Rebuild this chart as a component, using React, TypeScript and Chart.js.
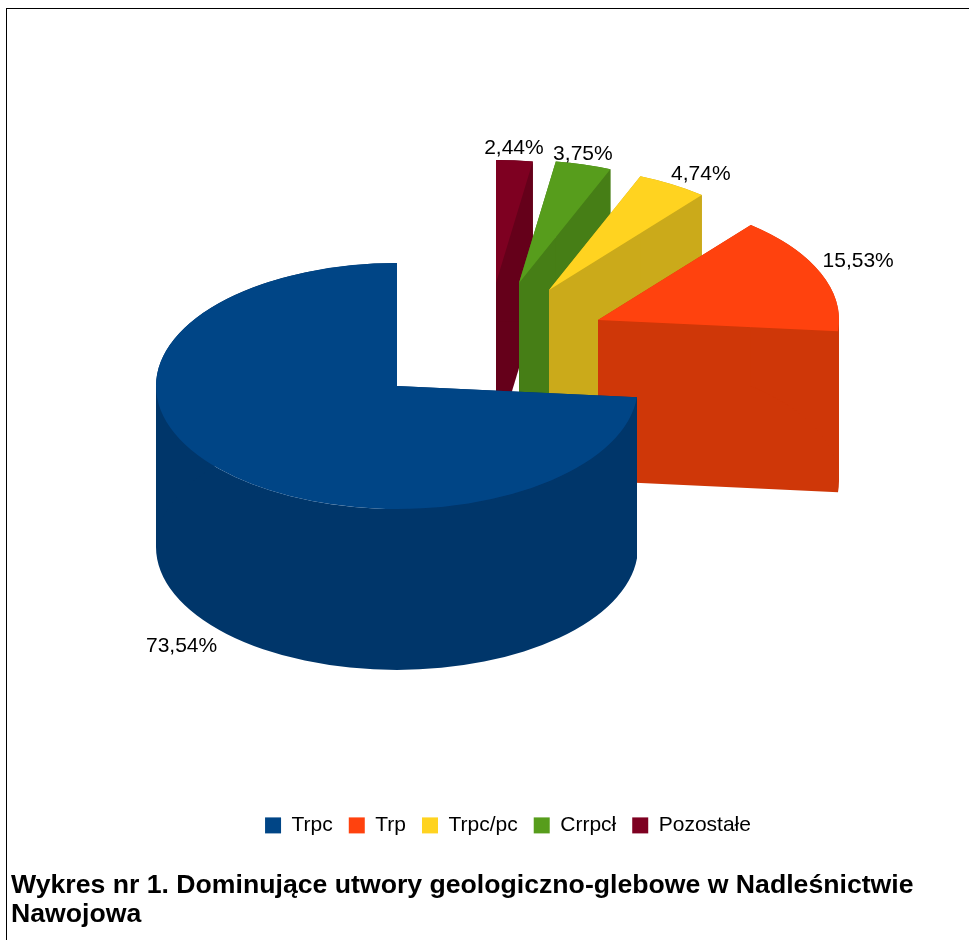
import { useEffect, useRef } from "react";
import { Chart, registerables } from "chart.js";

Chart.register(...registerables);

// Data, in legend order
const categories = ["Trpc", "Trp", "Trpc/pc", "Crrpcł", "Pozostałe"];
const shares = [73.54, 15.53, 4.74, 3.75, 2.44];
const topColors = ["#004586", "#ff420e", "#ffd320", "#579d1c", "#7e0021"];
const wallColors = ["#00366a", "#cf3708", "#cbaa1a", "#467e16", "#65001a"];
const titleLines = [
  "Wykres nr 1. Dominujące utwory geologiczno-glebowe w Nadleśnictwie",
  "Nawojowa",
];

// 3D layout of the exploded pie
const CENTER_X = 397;
const CENTER_Y = 386;
const RADIUS = 241;
const SQUASH = 0.51;
const WALL = 161;
const explodeX = [0, 201, 152, 122, 99];
const explodeY = [0, -66, -96, -103, -103];
const labelKX = [1.21, 1.17, 1.23, 0.99, 0.97];
const labelKY = [1.2, 1.25, 1.1, 1.085, 1.1];
const FONT = '"Liberation Sans", Arial, sans-serif';

// The pie runs counter-clockwise from 12 o'clock in legend order, so it is fed reversed.
const rev = <T,>(a: T[]): T[] => [...a].reverse();
const toLegend = (i: number) => categories.length - 1 - i;

const pie3d = {
  id: "pie3d",
  afterDatasetsUpdate(chart: any) {
    chart.getDatasetMeta(0).data.forEach((el: any, i: number) => {
      const k = toLegend(i);
      el.x = explodeX[k];
      el.y = explodeY[k] / SQUASH;
    });
  },
  beforeDraw(chart: any) {
    const lg = chart.legend;
    lg.left += 18;
    lg.right += 18;
  },
  beforeDatasetDraw(chart: any) {
    const ctx = chart.ctx as CanvasRenderingContext2D;
    const wall = WALL / SQUASH;
    ctx.save();
    ctx.translate(CENTER_X, CENTER_Y);
    ctx.scale(1, SQUASH);
    chart.getDatasetMeta(0).data.forEach((el: any, i: number) => {
      const k = toLegend(i);
      const { x, y, startAngle: a0, endAngle: a1, outerRadius: r } = el;
      ctx.fillStyle = wallColors[k];
      [a0, a1].forEach((a: number) => {
        ctx.beginPath();
        ctx.moveTo(x, y);
        ctx.lineTo(x + r * Math.cos(a), y + r * Math.sin(a));
        ctx.lineTo(x + r * Math.cos(a), y + wall + r * Math.sin(a));
        ctx.lineTo(x, y + wall);
        ctx.closePath();
        ctx.fill();
      });
      // Outer wall, split at the ellipse's left and right tangents so each band is simple
      const cuts = [a0, ...[0, Math.PI].filter((c) => c > a0 && c < a1), a1];
      for (let c = 0; c < cuts.length - 1; c++) {
        ctx.beginPath();
        ctx.arc(x, y, r, cuts[c], cuts[c + 1]);
        ctx.arc(x, y + wall, r, cuts[c + 1], cuts[c], true);
        ctx.closePath();
        ctx.fill();
      }
      el.draw(ctx);
    });
    ctx.restore();
    return false;
  },
  afterDatasetsDraw(chart: any) {
    const ctx = chart.ctx as CanvasRenderingContext2D;
    ctx.save();
    ctx.fillStyle = "#000";
    ctx.font = `21px ${FONT}`;
    ctx.textAlign = "center";
    ctx.textBaseline = "middle";
    chart.getDatasetMeta(0).data.forEach((el: any, i: number) => {
      const k = toLegend(i);
      const mid = (el.startAngle + el.endAngle) / 2;
      const sx = Math.cos(mid);
      const sy = Math.sin(mid);
      const px = CENTER_X + el.x + sx * RADIUS * labelKX[k];
      const py =
        CENTER_Y + el.y * SQUASH + sy * RADIUS * SQUASH * labelKY[k] + (sy > 0 ? WALL : 0);
      ctx.fillText(`${shares[k].toFixed(2).replace(".", ",")}%`, px, py);
    });
    ctx.restore();
  },
};

export default function App() {
  const ref = useRef<HTMLCanvasElement>(null);
  useEffect(() => {
    const chart = new Chart(ref.current as HTMLCanvasElement, {
      type: "pie",
      data: {
        labels: rev(categories),
        datasets: [
          {
            data: rev(shares),
            backgroundColor: rev(topColors),
            borderWidth: 0,
            radius: RADIUS,
          },
        ],
      },
      options: {
        responsive: false,
        animation: false,
        devicePixelRatio: 1,
        layout: { padding: { left: 11, right: 0, top: 20, bottom: 11 } },
        plugins: {
          tooltip: { enabled: false },
          legend: {
            position: "bottom",
            reverse: true,
            labels: {
              boxWidth: 16,
              boxHeight: 16,
              padding: 16,
              color: "#000",
              font: { family: FONT, size: 21 },
            },
          },
          title: {
            display: true,
            position: "bottom",
            align: "start",
            text: titleLines,
            color: "#000",
            font: { family: FONT, size: 26.65, weight: "bold", lineHeight: 1.09 },
            padding: { top: 25, bottom: 0 },
          },
        },
      },
      plugins: [pie3d],
    } as any);
    return () => chart.destroy();
  }, []);
  return (
    <div style={{ position: "fixed", left: 0, top: 0, width: 969, height: 940, background: "#fff", overflow: "hidden" }}>
      <div style={{ position: "absolute", left: 6, top: 8, right: 0, bottom: 0, borderLeft: "1px solid #000", borderTop: "1px solid #000" }} />
      <canvas ref={ref} width={969} height={940} style={{ position: "absolute", left: 0, top: 0, display: "block" }} />
    </div>
  );
}
